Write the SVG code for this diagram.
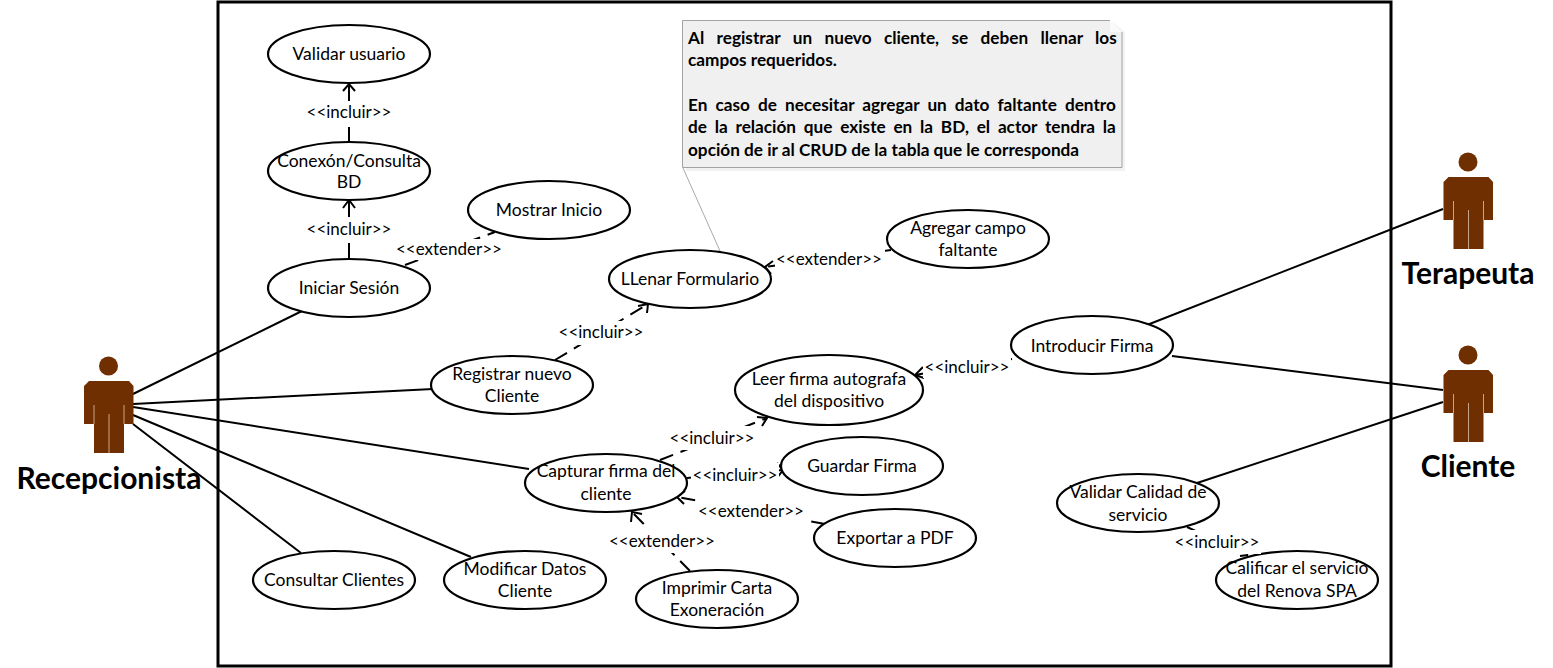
<svg xmlns="http://www.w3.org/2000/svg" width="1553" height="668" viewBox="0 0 1553 668">
<style>
text{font-family:"Lato","Open Sans","Liberation Sans",sans-serif;fill:#000}
.u{font-size:17.5px;text-anchor:middle}
.l{font-size:17px;text-anchor:middle}
.a{font-size:30px;font-weight:700;text-anchor:middle}
.n{font-size:17.2px;font-weight:700}
ellipse{fill:#fff;stroke:#000;stroke-width:2.2}
.c{stroke:#000;stroke-width:2;fill:none}
.d{stroke:#000;stroke-width:2;fill:none;stroke-dasharray:14 8}
.h{stroke:#000;stroke-width:2;fill:none}
.g{stroke:#c9a58c;stroke-width:1;fill:none}
</style>
<defs>
<g id="actor">
<circle cx="108.500" cy="366" r="9.500" fill="#702f00"/>
<path d="M89 381H129L133.500 386V424H124V453H94V424H84V386Z" fill="#702f00"/>
<path class="g" d="M94 405V424M124 405V424M109 414V453"/>
</g>
</defs>
<rect width="1553" height="668" fill="#fff"/>
<rect x="218" y="2" width="1173" height="664" fill="#fff" stroke="#000" stroke-width="3"/>
<g id="connectors">
<path class="c" d="M133 394L302 311M133 404L433 389M133 407L529 469M133 415L471 557M133 424L301 553M1147 325L1443 209M1172 356L1443 390M1197 483L1443 402"/>
<path class="c" d="M349 143V127M349 84V101M349 260V243M349 200V217"/>
<path class="d" d="M405 265L495 232M555 360L648 304M891 250L765 267M660 460L767 418M687 478L783 470M825 524L677 497M690 571L632 512M1012 359L915 375M1187 527L1248 555"/>
<path class="h" d="M343 91L349 84L355 91M343 208L349 200L355 208M638 306L648 304L647 313M773 261L765 267L771 274M757 417L767 418L762 426M777 463L783 470L777 478M685 491L677 497L684 504M631 522L632 512L642 514M923 367L915 375L924 378M1240 556L1248 555"/>
<path stroke="#a9a9a9" stroke-width="1" fill="none" d="M683 168L720 251"/>
</g>
<g id="note">
<path d="M686 23H1125V171H686Z" fill="#ececec" opacity=".7"/>
<path d="M682.500 20.500H1110L1122 32V167.500H682.500Z" fill="#f0f0f0"/>
<path d="M1110 20.500H682.500V167.500H1122V32" fill="none" stroke="#a3a3a3" stroke-width="1"/>
<path d="M1110 20L1125 32V20Z" fill="#fff"/>
<path d="M1110 20L1122 32H1110Z" fill="#fafafa"/>
<text class="n" x="688" y="44" style="word-spacing:8.200px">Al registrar un nuevo cliente, se deben llenar los</text>
<text class="n" x="688" y="66">campos requeridos.</text>
<text class="n" x="688" y="111" style="word-spacing:3.900px">En caso de necesitar agregar un dato faltante dentro</text>
<text class="n" x="688" y="133" style="word-spacing:3.600px">de la relación que existe en la BD, el actor tendra la</text>
<text class="n" x="688" y="156">opción de ir al CRUD de la tabla que le corresponda</text>
</g>
<g id="n-validar"><ellipse cx="349" cy="54" rx="81" ry="29"/><text class="u" x="349" y="60">Validar usuario</text></g>
<g id="n-conexion"><ellipse cx="349" cy="171" rx="81" ry="29"/><text class="u" x="349" y="167">Conexón/Consulta</text><text class="u" x="349" y="188">BD</text></g>
<g id="n-iniciar"><ellipse cx="349" cy="288" rx="81" ry="29"/><text class="u" x="349" y="294">Iniciar Sesión</text></g>
<g id="n-mostrar"><ellipse cx="549" cy="210" rx="81" ry="29"/><text class="u" x="549" y="216">Mostrar Inicio</text></g>
<g id="n-llenar"><ellipse cx="690" cy="279" rx="81" ry="29"/><text class="u" x="690" y="285">LLenar Formulario</text></g>
<g id="n-agregar"><ellipse cx="968" cy="239" rx="81" ry="29"/><text class="u" x="968" y="234">Agregar campo</text><text class="u" x="968" y="256">faltante</text></g>
<g id="n-registrar"><ellipse cx="512" cy="385" rx="81" ry="29"/><text class="u" x="512" y="380">Registrar nuevo</text><text class="u" x="512" y="402">Cliente</text></g>
<g id="n-introducir"><ellipse cx="1092" cy="345" rx="81" ry="29"/><text class="u" x="1092" y="352">Introducir Firma</text></g>
<g id="n-leer"><ellipse cx="829" cy="390" rx="94" ry="35"/><text class="u" x="829" y="385">Leer firma autografa</text><text class="u" x="829" y="407">del dispositivo</text></g>
<g id="n-guardar"><ellipse cx="862" cy="466" rx="81" ry="29"/><text class="u" x="862" y="472">Guardar Firma</text></g>
<g id="n-capturar"><ellipse cx="606" cy="483" rx="81" ry="29"/><text class="u" x="606" y="477">Capturar firma del</text><text class="u" x="606" y="500">cliente</text></g>
<g id="n-exportar"><ellipse cx="895" cy="538" rx="81" ry="29"/><text class="u" x="895" y="544">Exportar a PDF</text></g>
<g id="n-imprimir"><ellipse cx="717" cy="599" rx="81" ry="29"/><text class="u" x="717" y="594">Imprimir Carta</text><text class="u" x="717" y="616">Exoneración</text></g>
<g id="n-modificar"><ellipse cx="525" cy="580" rx="81" ry="29"/><text class="u" x="525" y="575">Modificar Datos</text><text class="u" x="525" y="597">Cliente</text></g>
<g id="n-consultar"><ellipse cx="334" cy="580" rx="81" ry="29"/><text class="u" x="334" y="586">Consultar Clientes</text></g>
<g id="n-calidad"><ellipse cx="1138" cy="503" rx="81" ry="29"/><text class="u" x="1138" y="498">Validar Calidad de</text><text class="u" x="1138" y="521">servicio</text></g>
<g id="n-calificar"><ellipse cx="1297" cy="580" rx="81" ry="29"/><text class="u" x="1297" y="574">Calificar el servicio</text><text class="u" x="1297" y="597">del Renova SPA</text></g>
<g id="labels">
<g fill="#fff" stroke="none">
<rect x="305" y="101" width="88" height="24"/><rect x="305" y="218" width="88" height="24"/><rect x="395" y="239" width="110" height="21"/><rect x="557" y="321" width="88" height="24"/><rect x="775" y="248" width="110" height="22"/><rect x="923" y="356" width="88" height="22"/><rect x="669" y="426" width="88" height="24"/><rect x="691" y="463" width="88" height="24"/><rect x="697" y="499" width="110" height="24"/><rect x="608" y="529" width="110" height="24"/><rect x="1173" y="530" width="88" height="24"/>
</g>
<text class="l" x="349" y="118">&lt;&lt;incluir&gt;&gt;</text>
<text class="l" x="349" y="235">&lt;&lt;incluir&gt;&gt;</text>
<text class="l" x="449" y="255">&lt;&lt;extender&gt;&gt;</text>
<text class="l" x="601" y="338">&lt;&lt;incluir&gt;&gt;</text>
<text class="l" x="829" y="265">&lt;&lt;extender&gt;&gt;</text>
<text class="l" x="967" y="373">&lt;&lt;incluir&gt;&gt;</text>
<text class="l" x="712" y="444">&lt;&lt;incluir&gt;&gt;</text>
<text class="l" x="735" y="481">&lt;&lt;incluir&gt;&gt;</text>
<text class="l" x="751" y="517">&lt;&lt;extender&gt;&gt;</text>
<text class="l" x="662" y="547">&lt;&lt;extender&gt;&gt;</text>
<text class="l" x="1217" y="548">&lt;&lt;incluir&gt;&gt;</text>
</g>
<g id="a-recepcionista"><use href="#actor"/><text class="a" x="109" y="489">Recepcionista</text></g>
<g id="a-terapeuta"><use href="#actor" transform="translate(1359.500,-204)"/><text class="a" x="1468" y="284">Terapeuta</text></g>
<g id="a-cliente"><use href="#actor" transform="translate(1359.500,-11)"/><text class="a" x="1468" y="477">Cliente</text></g>
</svg>
